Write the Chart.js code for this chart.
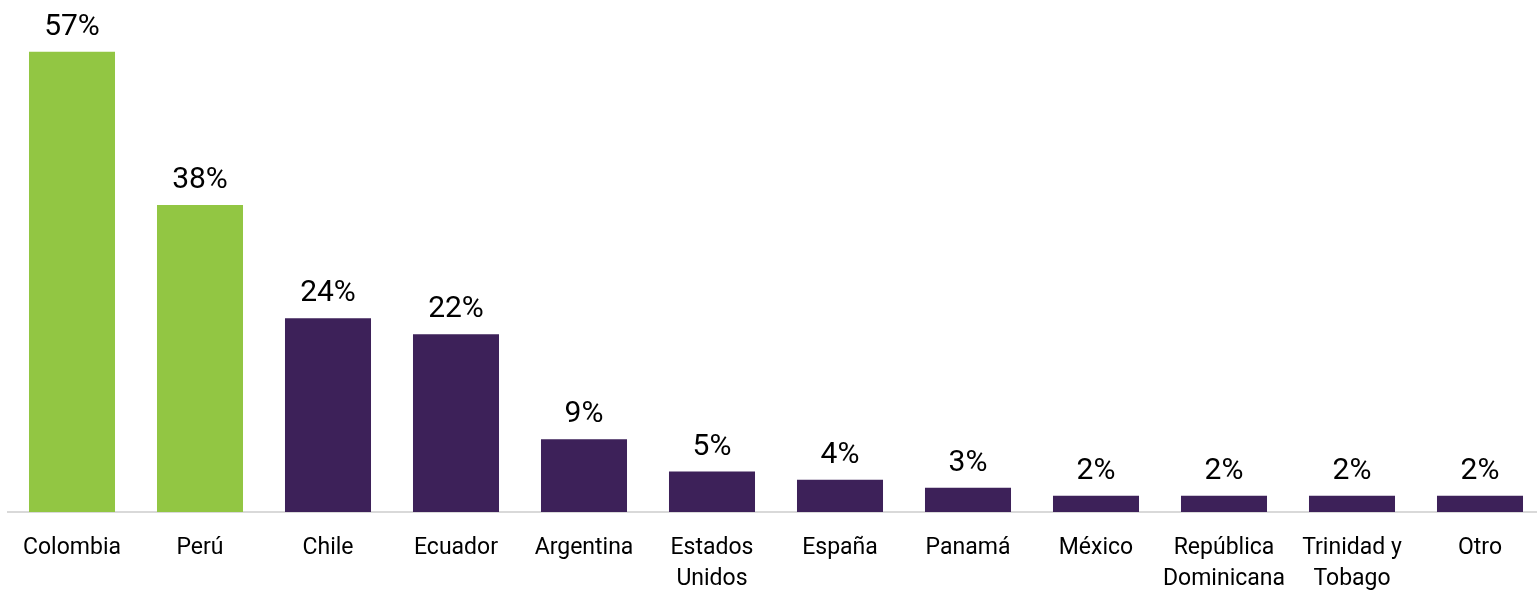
<!DOCTYPE html>
<html>
<head>
<meta charset="utf-8">
<script src="https://cdn.jsdelivr.net/npm/chart.js@4/dist/chart.umd.min.js"></script>
<style>
  html, body { margin: 0; padding: 0; background: #fff; overflow: hidden; }
  #wrap { position: relative; width: 1544px; height: 594px; }
</style>
</head>
<body>
<div id="wrap"><canvas id="grafico"></canvas></div>
<script>
const paises = ['Colombia', 'Perú', 'Chile', 'Ecuador', 'Argentina', ['Estados', 'Unidos'],
  'España', 'Panamá', 'México', ['República', 'Dominicana'], ['Trinidad y', 'Tobago'], 'Otro'];
const porcentajes = [57, 38, 24, 22, 9, 5, 4, 3, 2, 2, 2, 2];

const verde = 'rgb(146, 198, 67)';
const morado = 'rgb(61, 33, 89)';
const colores = porcentajes.map((v, i) => i < 2 ? verde : morado);

// etiquetas encima de cada barra
const etiquetas = {
  id: 'etiquetas',
  afterDatasetsDraw(chart) {
    const ctx = chart.ctx;
    const meta = chart.getDatasetMeta(0);
    ctx.save();
    ctx.font = '30px Roboto';
    ctx.fillStyle = '#000';
    ctx.textAlign = 'center';
    ctx.textBaseline = 'alphabetic';
    meta.data.forEach((bar, i) => {
      ctx.fillText(porcentajes[i] + '%', bar.x, bar.y - 17);
    });
    ctx.restore();
  }
};

new Chart(document.getElementById('grafico'), {
  type: 'bar',
  data: {
    labels: paises,
    datasets: [{
      data: porcentajes,
      backgroundColor: colores,
      borderWidth: 0,
      barPercentage: 0.672,
      categoryPercentage: 1
    }]
  },
  options: {
    responsive: true,
    maintainAspectRatio: false,
    animation: false,
    layout: { padding: { left: 8, right: 0, top: 0, bottom: 0 } },
    plugins: {
      legend: { display: false },
      tooltip: { enabled: false }
    },
    scales: {
      x: {
        grid: { display: false },
        border: { display: true, color: '#d9d9d9', width: 2 },
        ticks: {
          color: '#000',
          padding: 13,
          maxRotation: 0,
          autoSkip: false,
          font: { family: 'Roboto', size: 23, lineHeight: 1.35 }
        },
        afterFit(scale) { scale.height = 82; }
      },
      y: {
        display: false,
        min: 0,
        max: 63.4
      }
    }
  },
  plugins: [etiquetas]
});
</script>
</body>
</html>
